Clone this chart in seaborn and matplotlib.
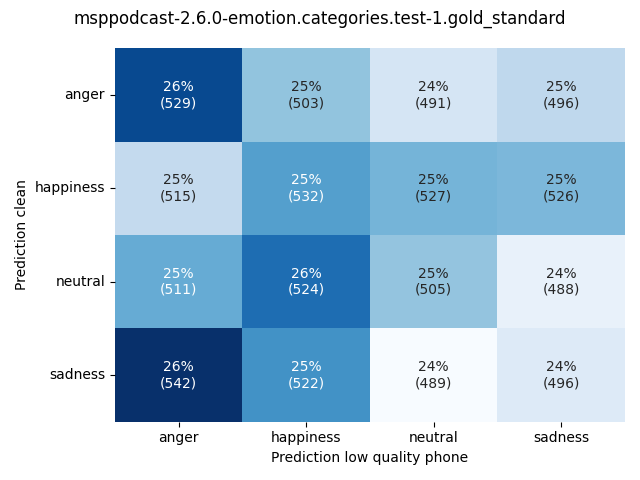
import matplotlib
matplotlib.use("Agg")
import matplotlib.pyplot as plt
import numpy as np
import seaborn as sns

labels = ["anger", "happiness", "neutral", "sadness"]
counts = np.array([
    [529, 503, 491, 496],
    [515, 532, 527, 526],
    [511, 524, 505, 488],
    [542, 522, 489, 496],
])

percent = counts / counts.sum(axis=1, keepdims=True) * 100
annot = np.array([
    [f"{p:.0f}%\n({c})" for p, c in zip(prow, crow)]
    for prow, crow in zip(percent, counts)
])

fig, ax = plt.subplots(figsize=(6.4, 4.8), dpi=100)
sns.heatmap(percent, annot=annot, fmt="", cmap="Blues", cbar=False,
            xticklabels=labels, yticklabels=labels, ax=ax)
ax.set_xlabel("Prediction low quality phone")
ax.set_ylabel("Prediction clean")
ax.tick_params(axis="y", rotation=0)
fig.suptitle("msppodcast-2.6.0-emotion.categories.test-1.gold_standard")
fig.tight_layout()
fig.savefig("out.png")
